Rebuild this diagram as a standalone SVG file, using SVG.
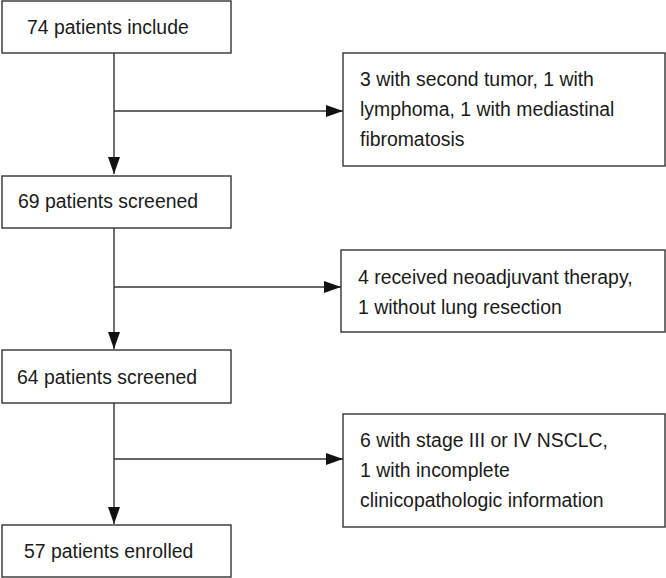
<svg xmlns="http://www.w3.org/2000/svg" width="666" height="578" viewBox="0 0 666 578">
<defs>
<marker id="arr" markerWidth="17" markerHeight="12" refX="17" refY="6" orient="auto" markerUnits="userSpaceOnUse">
<path d="M0,0 L17,6 L0,12 Z" fill="#111"/>
</marker>
<style>
rect{fill:#fff;stroke:#333;stroke-width:1.4}
text{font-family:"Liberation Sans",Arial,Helvetica,sans-serif;font-size:19.4px;fill:#1a1a1a}
.c{fill:none;stroke:#333;stroke-width:1.4}
</style>
</defs>
<rect x="0" y="0" width="666" height="578" style="fill:#fff;stroke:none"/>
<g id="connectors">
<path class="c" d="M114,53 V174" marker-end="url(#arr)"/>
<path class="c" d="M114,111 H343" marker-end="url(#arr)"/>
<path class="c" d="M114,228 V349" marker-end="url(#arr)"/>
<path class="c" d="M114,287 H341" marker-end="url(#arr)"/>
<path class="c" d="M114,403 V524" marker-end="url(#arr)"/>
<path class="c" d="M114,459 H343" marker-end="url(#arr)"/>
</g>
<g id="n1"><rect x="2" y="1" width="229" height="52"/><text x="27" y="34">74 patients include</text></g>
<g id="n2"><rect x="343" y="53" width="322" height="113"/><text x="360" y="86">3 with second tumor, 1 with</text><text x="360" y="116">lymphoma, 1 with mediastinal</text><text x="360" y="146">fibromatosis</text></g>
<g id="n3"><rect x="2" y="176" width="229" height="52"/><text x="18" y="208">69 patients screened</text></g>
<g id="n4"><rect x="341" y="250" width="324" height="82"/><text x="358" y="284">4 received neoadjuvant therapy,</text><text x="358" y="314">1 without lung resection</text></g>
<g id="n5"><rect x="2" y="350" width="229" height="53"/><text x="17" y="384">64 patients screened</text></g>
<g id="n6"><rect x="343" y="414" width="322" height="113"/><text x="360" y="447">6 with stage III or IV NSCLC,</text><text x="360" y="477">1 with incomplete</text><text x="360" y="507">clinicopathologic information</text></g>
<g id="n7"><rect x="2" y="525" width="229" height="52"/><text x="24" y="558">57 patients enrolled</text></g>
</svg>
